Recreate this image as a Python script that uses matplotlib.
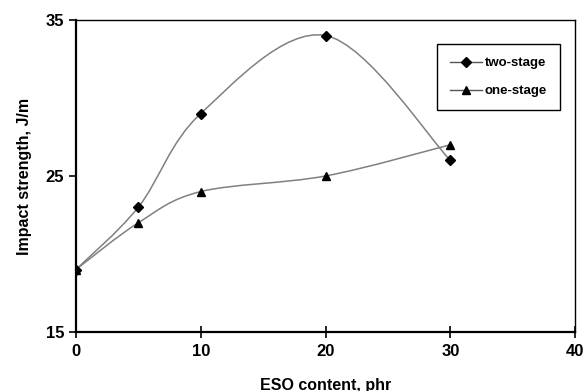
import matplotlib.pyplot as plt
import numpy as np
from matplotlib.path import Path
from matplotlib.patches import PathPatch
from matplotlib.lines import Line2D

plt.rcParams['font.family'] = ['Liberation Sans', 'DejaVu Sans']
plt.rcParams['font.weight'] = 'bold'
plt.rcParams['axes.labelweight'] = 'bold'

eso = [0, 5, 10, 20, 30]
two_stage = [19, 23, 29, 34, 26]
one_stage = [19, 22, 24, 25, 27]


def smooth_path(x, y):
    # excel style smoothed line: catmull-rom as cubic bezier
    p = np.column_stack([x, y]).astype(float)
    verts = [p[0]]
    codes = [Path.MOVETO]
    n = len(p)
    for i in range(n - 1):
        p0 = p[i - 1] if i > 0 else p[i]
        p3 = p[i + 2] if i + 2 < n else p[i + 1]
        c1 = p[i] + (p[i + 1] - p0) / 6
        c2 = p[i + 1] - (p3 - p[i]) / 6
        verts += [c1, c2, p[i + 1]]
        codes += [Path.CURVE4] * 3
    return Path(verts, codes)


fig = plt.figure(figsize=(5.84, 3.91), dpi=100)
ax = fig.add_axes([0.130, 0.151, 0.855, 0.798])

for ys, mk in [(two_stage, 'D'), (one_stage, '^')]:
    ax.add_patch(PathPatch(smooth_path(eso, ys), fill=False, edgecolor='#808080', lw=1.1))
    ax.plot(eso, ys, ls='none', marker=mk, color='black', ms=5 if mk == 'D' else 6)

ax.set_xlim(0, 40)
ax.set_ylim(15, 35)
ax.set_xticks([0, 10, 20, 30, 40])
ax.set_yticks([15, 25, 35])
ax.tick_params(axis='x', direction='inout', length=8, width=1.2, labelsize=12, pad=5)
ax.tick_params(axis='y', direction='out', length=5, width=1.2, labelsize=12)
for s in ax.spines.values():
    s.set_linewidth(1.0)
ax.spines['left'].set_linewidth(1.6)
ax.spines['bottom'].set_linewidth(1.6)

ax.set_xlabel('ESO content, phr', fontsize=11.5, labelpad=13)
ax.set_ylabel('Impact strength, J/m', fontsize=11.5, labelpad=10)

handles = [
    Line2D([], [], color='#555555', lw=1, marker='D', ms=5, mfc='black', mec='black'),
    Line2D([], [], color='#555555', lw=1, marker='^', ms=6, mfc='black', mec='black'),
]
leg = ax.legend(handles, ['two-stage', 'one-stage'], loc='upper right',
                bbox_to_anchor=(0.983, 0.945), fancybox=False, edgecolor='black',
                fontsize=9.5, handlelength=2.4, handletextpad=0.2,
                labelspacing=1.2, borderpad=1.0, framealpha=1)
leg.get_frame().set_linewidth(1.0)

fig.savefig('out.png', dpi=100)
